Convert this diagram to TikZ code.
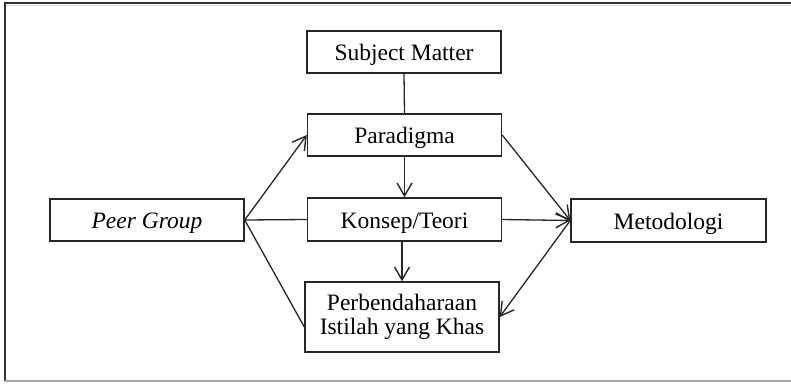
\documentclass[tikz,border=0pt]{standalone}
\usepackage{fontspec}
\setmainfont{Liberation Serif}
\usetikzlibrary{arrows.meta,calc}
\begin{document}
\begin{tikzpicture}[x=1pt,y=-1pt,
  box/.style={draw=black!85, line width=1.4pt, minimum width=194pt, minimum height=42pt,
    inner sep=0pt, align=center, font=\fontsize{23.5}{24}\selectfont},
  oneline/.style={text height=17pt, text depth=0pt},
  link/.style={draw=black!85, line width=1.3pt},
  arr/.style={link, -{Straight Barb[length=13pt,width=15pt,line width=1.4pt]}}]
  \useasboundingbox (0,0) rectangle (791,383);
  % outer frame
  \draw[black!80, line width=1.2pt] (5,381) -- (5,3) -- (800,3);
  \draw[black!15, line width=1pt] (6,5.5) -- (800,5.5);
  \draw[black!35, line width=1.2pt] (5,381) -- (800,381);
  % boxes
  \node[box, oneline] (sm)   at (404,52)    {Subject Matter};
  \node[box, oneline] (par)  at (404.5,135) {Paradigma};
  \node[box, oneline, minimum height=43pt] (kon) at (404.5,219.5) {Konsep/Teori};
  \node[box, minimum height=70pt] (per) at (402,317) {Perbendaharaan\\Istilah yang Khas};
  \node[box, oneline] (peer) at (147,220)   {\itshape Peer Group};
  \node[box, oneline, minimum width=195pt, minimum height=43pt] (met) at (668.5,220.5) {Metodologi};
  % connectors
  \draw[link] (sm.south) -- (par.north);
  \draw[arr] (par.south) -- (kon.north);
  \draw[arr] (kon.south -| per.north) -- (per.north);
  \draw[arr] (peer.east) -- (par.west);
  \draw[link] (peer.east) -- (kon.west);
  \draw[link] (peer.east) -- ($(per.west)+(0,10)$);
  \draw[arr] (par.east) -- (met.west);
  \draw[arr] (kon.east) -- (met.west);
  \draw[arr] (met.west) -- (per.east);
\end{tikzpicture}
\end{document}
